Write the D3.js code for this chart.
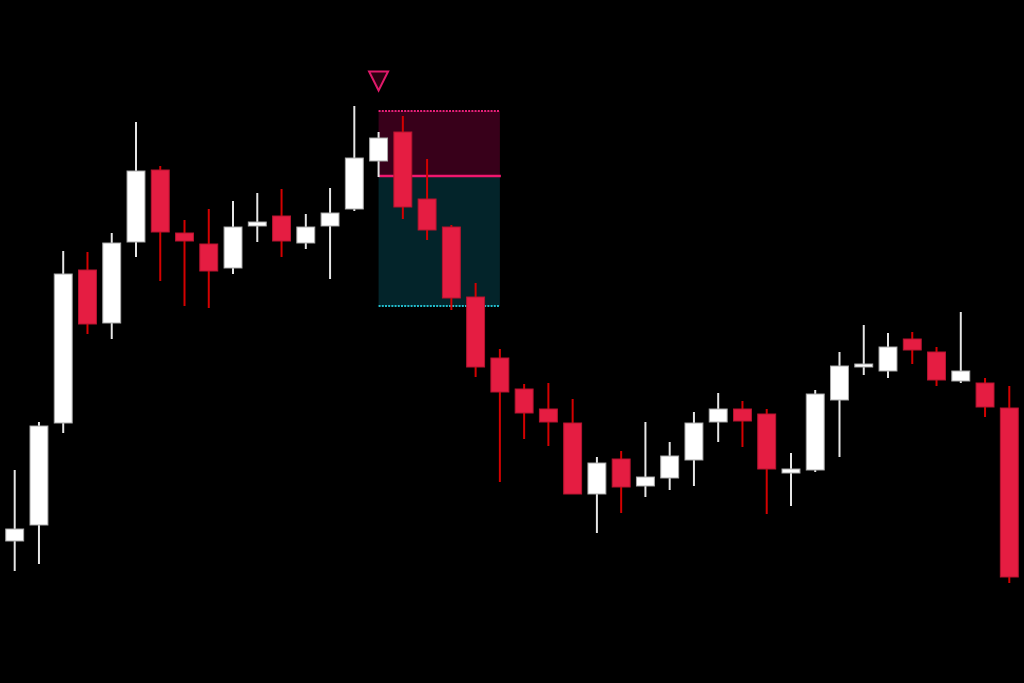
<!DOCTYPE html>
<html>
<head>
<meta charset="utf-8">
<script src="https://cdn.jsdelivr.net/npm/d3@7/dist/d3.min.js"></script>
<style>
  html, body { margin: 0; padding: 0; background: #000; }
  svg { display: block; }
</style>
</head>
<body>
<div id="chart"></div>
<script>
// ---- Data ----
const categories = d3.range(1, 43).map(i => "C" + i);
const opens  = [142,158,260,413,360,441,513,450,439,415,457,467,440,457,474,522,551,484,456,386,325,294,274,260,189,224,197,205,223,261,274,269,210,213,283,316,312,344,331,302,300,275];
const highs  = [213,261,432,431,450,561,517,463,474,482,490,494,469,495,577,551,567,524,458,400,334,299,300,284,226,232,261,241,271,290,282,274,230,293,331,358,350,351,336,371,305,297];
const lows   = [112,119,250,349,344,426,402,377,375,409,441,426,434,404,472,506,464,443,373,306,201,244,237,189,150,170,186,193,197,241,236,169,177,211,226,308,305,319,297,300,266,100];
const closes = [154,257,409,359,440,512,451,442,412,456,461,442,456,470,525,545,476,453,385,316,291,270,261,189,220,196,206,227,260,274,262,214,214,289,317,319,336,333,303,312,276,106];

// Trade position (short): entry, stop loss, take profit, spanning candles
const positionStart = "C16";
const positionEnd   = "C21";
const entryPrice  = 507;
const stopPrice   = 572;
const targetPrice = 377;
// Signal marker (down triangle) above candle
const signalCategory = "C16";
const signalTipPrice = 592;

const W = 1024, H = 683;
const svg = d3.select("#chart").append("svg")
  .attr("width", W).attr("height", H)
  .style("background", "#000");

const x = d3.scalePoint().domain(categories).range([14.7, 1009.3]);
const y = d3.scaleLinear().domain([0, 683]).range([683, 0]);
const bodyW = x.step() * 0.78;

const candles = categories.map((c, i) => ({
  c, o: opens[i], h: highs[i], l: lows[i], cl: closes[i], up: closes[i] >= opens[i]
}));

// ---- Position box ----
const bx0 = x(positionStart), bx1 = x(positionEnd);
const g = svg.append("g");
g.append("rect")
  .attr("x", bx0).attr("y", y(stopPrice))
  .attr("width", bx1 - bx0).attr("height", y(entryPrice) - y(stopPrice))
  .attr("fill", "#38001a");
g.append("rect")
  .attr("x", bx0).attr("y", y(entryPrice))
  .attr("width", bx1 - bx0).attr("height", y(targetPrice) - y(entryPrice))
  .attr("fill", "#03242a");
g.append("line")
  .attr("x1", bx0).attr("x2", bx1).attr("y1", y(stopPrice)).attr("y2", y(stopPrice))
  .attr("stroke", "#e8207a").attr("stroke-width", 2).attr("stroke-dasharray", "2,1.2");
g.append("line")
  .attr("x1", bx0).attr("x2", bx1).attr("y1", y(targetPrice)).attr("y2", y(targetPrice))
  .attr("stroke", "#22bccc").attr("stroke-width", 2).attr("stroke-dasharray", "2,1.2");
g.append("line")
  .attr("x1", bx0).attr("x2", bx1 + 1).attr("y1", y(entryPrice)).attr("y2", y(entryPrice))
  .attr("stroke", "#f0176e").attr("stroke-width", 2.5);

// ---- Candles ----
const cg = svg.append("g").selectAll("g").data(candles).join("g");
cg.append("line")
  .attr("x1", d => x(d.c)).attr("x2", d => x(d.c))
  .attr("y1", d => y(d.h)).attr("y2", d => y(d.l))
  .attr("stroke", d => d.up ? "#e6e6e6" : "#d40000")
  .attr("stroke-width", 2);
cg.append("rect")
  .attr("x", d => x(d.c) - bodyW / 2 + 0.5)
  .attr("y", d => y(Math.max(d.o, d.cl)))
  .attr("width", bodyW - 1)
  .attr("height", d => Math.max(1, Math.abs(y(d.o) - y(d.cl))))
  .attr("fill", d => d.up ? "#ffffff" : "#e51d42")
  .attr("stroke", d => d.up ? "#a8a8a8" : "#b5142f")
  .attr("stroke-width", 1);

// ---- Signal marker ----
const tx = x(signalCategory), ty = y(signalTipPrice);
svg.append("path")
  .attr("d", d3.line()([[tx - 9.5, ty - 19.5], [tx + 9.5, ty - 19.5], [tx, ty - 0.5]]) + "Z")
  .attr("fill", "#2a0010")
  .attr("stroke", "#e0196a")
  .attr("stroke-width", 2)
  .attr("stroke-linejoin", "miter");
</script>
</body>
</html>
